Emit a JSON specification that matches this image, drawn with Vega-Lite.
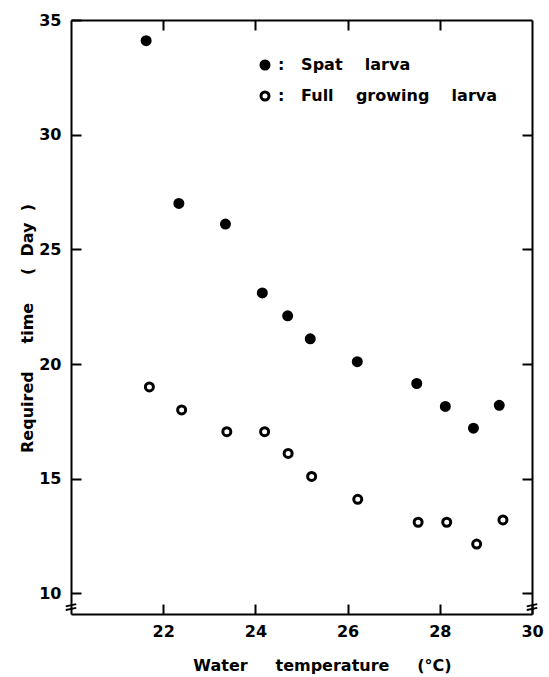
{
  "$schema": "https://vega.github.io/schema/vega-lite/v6.json",
  "width": 461,
  "height": 594,
  "autosize": {"type": "none"},
  "padding": {"left": 71, "top": 20, "right": 17, "bottom": 63},
  "background": "white",
  "config": {
    "view": {"stroke": null},
    "font": "DejaVu Sans",
    "axis": {
      "domainColor": "black",
      "domainWidth": 2,
      "ticks": true,
      "tickColor": "black",
      "tickWidth": 2,
      "tickSize": -10,
      "grid": false,
      "labelFont": "DejaVu Sans",
      "labelFontWeight": "bold",
      "labelFontSize": 16,
      "labelColor": "black",
      "labelFlush": false,
      "labelOverlap": false,
      "titleFont": "DejaVu Sans",
      "titleFontWeight": "bold",
      "titleFontSize": 16,
      "titleColor": "black"
    }
  },
  "datasets": {
    "larvae": [
      {"temp": 21.63, "days": 34.1, "stage": "Spat larva"},
      {"temp": 22.34, "days": 27.0, "stage": "Spat larva"},
      {"temp": 23.35, "days": 26.1, "stage": "Spat larva"},
      {"temp": 24.15, "days": 23.1, "stage": "Spat larva"},
      {"temp": 24.70, "days": 22.1, "stage": "Spat larva"},
      {"temp": 25.19, "days": 21.1, "stage": "Spat larva"},
      {"temp": 26.21, "days": 20.1, "stage": "Spat larva"},
      {"temp": 27.50, "days": 19.15, "stage": "Spat larva"},
      {"temp": 28.12, "days": 18.15, "stage": "Spat larva"},
      {"temp": 28.73, "days": 17.2, "stage": "Spat larva"},
      {"temp": 29.29, "days": 18.2, "stage": "Spat larva"},
      {"temp": 21.70, "days": 19.0, "stage": "Full growing larva"},
      {"temp": 22.40, "days": 18.0, "stage": "Full growing larva"},
      {"temp": 23.38, "days": 17.05, "stage": "Full growing larva"},
      {"temp": 24.20, "days": 17.05, "stage": "Full growing larva"},
      {"temp": 24.71, "days": 16.1, "stage": "Full growing larva"},
      {"temp": 25.22, "days": 15.1, "stage": "Full growing larva"},
      {"temp": 26.22, "days": 14.1, "stage": "Full growing larva"},
      {"temp": 27.53, "days": 13.1, "stage": "Full growing larva"},
      {"temp": 28.15, "days": 13.1, "stage": "Full growing larva"},
      {"temp": 28.80, "days": 12.15, "stage": "Full growing larva"},
      {"temp": 29.37, "days": 13.2, "stage": "Full growing larva"}
    ],
    "breaks": [
      {"temp": 20, "days": 9.4},
      {"temp": 30, "days": 9.4}
    ]
  },
  "layer": [
    {
      "data": {"name": "larvae"},
      "mark": {"type": "point", "shape": "circle", "filled": true, "stroke": "black", "strokeWidth": 3, "size": 64, "opacity": 1},
      "encoding": {
        "x": {
          "field": "temp", "type": "quantitative",
          "scale": {"domain": [20, 30], "nice": false, "zero": false},
          "axis": {
            "orient": "bottom",
            "values": [22, 24, 26, 28, 30],
            "labelPadding": 19,
            "title": "Water\u00a0\u00a0\u00a0\u00a0\u00a0temperature\u00a0\u00a0\u00a0\u00a0\u00a0(°C)",
            "titleX": 251,
            "titleY": 51,
            "titleBaseline": "middle"
          }
        },
        "y": {
          "field": "days", "type": "quantitative",
          "scale": {"domain": [9.1, 35], "nice": false, "zero": false},
          "axis": {
            "orient": "left",
            "values": [10, 15, 20, 25, 30, 35],
            "labelPadding": 20,
            "title": "Required\u00a0\u00a0\u00a0\u00a0\u00a0time\u00a0\u00a0\u00a0\u00a0\u00a0(\u00a0\u00a0Day\u00a0\u00a0)",
            "titleX": -44,
            "titleY": 308,
            "titleBaseline": "middle"
          }
        },
        "fill": {
          "field": "stage", "type": "nominal",
          "scale": {"domain": ["Spat larva", "Full growing larva"], "range": ["black", "white"]},
          "legend": {
            "orient": "none",
            "legendX": 186,
            "legendY": 37,
            "title": null,
            "padding": 0,
            "symbolType": "circle",
            "symbolSize": 64,
            "symbolStrokeColor": "black",
            "symbolStrokeWidth": 3,
            "symbolOpacity": 1,
            "labelFont": "DejaVu Sans",
            "labelFontWeight": "bold",
            "labelFontSize": 16,
            "labelColor": "black",
            "labelOffset": 5,
            "labelLimit": 400,
            "rowPadding": 11,
            "labelExpr": "':\u00a0\u00a0\u00a0' + replace(datum.label, / /g, '\u00a0\u00a0\u00a0\u00a0')"
          }
        }
      }
    },
    {
      "data": {"name": "larvae"},
      "mark": {"type": "point", "opacity": 0},
      "encoding": {
        "x": {
          "field": "temp", "type": "quantitative",
          "scale": {"domain": [20, 30], "nice": false, "zero": false},
          "axis": {"orient": "top", "values": [22, 24, 26, 28], "labels": false, "title": null}
        },
        "y": {
          "field": "days", "type": "quantitative",
          "scale": {"domain": [9.1, 35], "nice": false, "zero": false},
          "axis": {"orient": "right", "values": [10, 15, 20, 25, 30], "labels": false, "title": null}
        }
      }
    },
    {
      "data": {"name": "breaks"},
      "mark": {
        "type": "point",
        "shape": "M -1 -0.15 L 1 -0.55 M -1 0.55 L 1 0.15",
        "filled": false,
        "stroke": "black",
        "strokeWidth": 1.8,
        "size": 110,
        "opacity": 1
      },
      "encoding": {
        "x": {"field": "temp", "type": "quantitative", "axis": null},
        "y": {"field": "days", "type": "quantitative", "axis": null}
      }
    }
  ],
  "resolve": {"axis": {"x": "independent", "y": "independent"}}
}
